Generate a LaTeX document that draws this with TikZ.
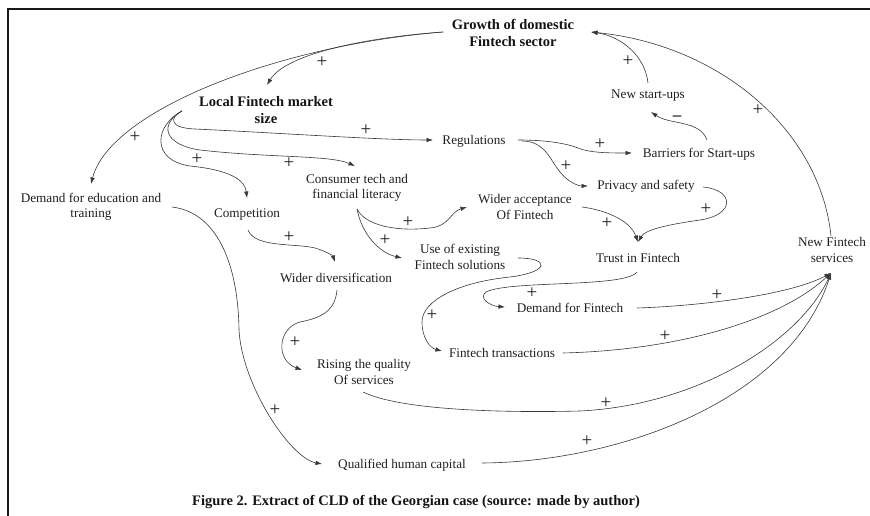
\documentclass[tikz,border=0pt]{standalone}
\usepackage{fontspec}
\setmainfont{Liberation Serif}
\usetikzlibrary{arrows.meta,calc}
\begin{document}
\begin{tikzpicture}[x=1pt,y=-1pt,
  var/.style={font=\fontsize{13.2}{15.5}\selectfont, text=black!88, align=center, inner sep=0pt},
  key/.style={font=\bfseries\fontsize{14.5}{17}\selectfont, text=black!92, align=center, inner sep=0pt},
  sgn/.style={font=\fontsize{19}{19}\selectfont, text=black!88, inner sep=0pt},
  cl/.style={draw=black!78, line width=0.6pt, -{Latex[length=6.5pt,width=4.5pt]}},
]
\useasboundingbox (0,0) rectangle (870,516);
% frame
\draw[line width=2.4pt, black!90, line join=miter] (8,516) -- (8,9) -- (870,9);

% variables
\node[key] (gro) at (513,33) {Growth of domestic\\Fintech sector};
\node[key] (lfm) at (266,110) {Local Fintech market\\size};
\node[var] (reg) at (474,141) {Regulations};
\node[var] (bar) at (699,154) {Barriers for Start-ups};
\node[var] (nsu) at (648,96) {New start-ups};
\node[var] (pri) at (646,186) {Privacy and safety};
\node[var] (ded) at (91,207) {Demand for education and\\training};
\node[var] (com) at (247,215) {Competition};
\node[var] (con) at (357,188) {Consumer tech and\\financial literacy};
\node[var] (wac) at (525,207) {Wider acceptance\\Of Fintech};
\node[var] (use) at (460,257) {Use of existing\\Fintech solutions};
\node[var] (tru) at (638,258) {Trust in Fintech};
\node[var] (nfs) at (832,250) {New Fintech\\services};
\node[var] (wdi) at (336,278) {Wider diversification};
\node[var] (dfi) at (570,308) {Demand for Fintech};
\node[var] (ftr) at (502,353) {Fintech transactions};
\node[var] (riq) at (364,372) {Rising the quality\\Of services};
\node[var] (qhc) at (402,465) {Qualified human capital};
\node[key] (cap) at (416,502) {Figure 2. Extract of CLD of the Georgian case (source: made by author)};

% causal links
\draw[cl] ($(gro)+(-70,-1)$) .. controls (360,38) and (285,55) .. ($(lfm)+(1,-25)$);
\draw[cl] ($(gro)+(-70,-1)$) .. controls (280,45) and (110,110) .. ($(ded)+(0,-23)$);
\draw[cl] ($(nsu)+(0,-13)$) .. controls (645,55) and (620,36) .. ($(gro)+(78,-1)$);
\draw[cl] ($(nfs)+(-1,-14)$) .. controls (820,130) and (720,45) .. ($(gro)+(78,-1)$);
\draw[cl] ($(bar)+(8,-14)$) .. controls (700,120) and (670,125) .. ($(nsu)+(3,16)$);
\draw[cl] ($(lfm)+(-84,1)$) .. controls (170,117) and (168,128) .. (195,129)
          .. controls (280,133) and (380,140) .. ($(reg)+(-41,-1)$);
\draw[cl] ($(lfm)+(-84,1)$) .. controls (158,125) and (165,145) .. (200,150)
          .. controls (270,158) and (330,155) .. ($(con)+(-2,-22)$);
\draw[cl] ($(lfm)+(-84,1)$) .. controls (155,125) and (150,160) .. (190,166)
          .. controls (230,170) and (245,180) .. ($(com)+(0,-17)$);
\draw[cl] ($(reg)+(44,-1)$) .. controls (545,140) and (565,143) .. (578,148)
          .. controls (590,153) and (610,153) .. ($(bar)+(-67,-1)$);
\draw[cl] ($(reg)+(48,0)$) .. controls (545,141) and (550,160) .. (560,172)
          .. controls (568,182) and (578,186) .. ($(pri)+(-58,0)$);
\draw[cl] ($(pri)+(57,1)$) .. controls (735,190) and (735,215) .. (700,220)
          .. controls (665,225) and (645,230) .. ($(tru)+(0,-16)$);
\draw[cl] ($(wac)+(57,0)$) .. controls (605,210) and (630,220) .. ($(tru)+(0,-16)$);
\draw[cl] ($(con)+(0,21)$) .. controls (365,225) and (395,232) .. (430,228)
          .. controls (450,226) and (450,212) .. ($(wac)+(-58,0)$);
\draw[cl] ($(con)+(0,21)$) .. controls (362,235) and (380,253) .. ($(use)+(-58,1)$);
\draw[cl] ($(use)+(58,1)$) .. controls (550,258) and (550,272) .. (510,277)
          .. controls (460,282) and (422,300) .. (422,322)
          .. controls (422,338) and (430,348) .. ($(ftr)+(-60,-2)$);
\draw[cl] ($(tru)+(-1,14)$) .. controls (625,288) and (510,280) .. (486,292)
          .. controls (478,298) and (490,306) .. ($(dfi)+(-65,-1)$);
\draw[cl] ($(dfi)+(67,0)$) .. controls (700,306) and (790,295) .. ($(nfs)+(-1,23)$);
\draw[cl] ($(ftr)+(61,0)$) .. controls (680,350) and (780,320) .. ($(nfs)+(-1,23)$);
\draw[cl] ($(riq)+(-1,20)$) .. controls (400,410) and (500,413) .. (580,411)
          .. controls (700,405) and (800,340) .. ($(nfs)+(-1,23)$);
\draw[cl] ($(qhc)+(80,-2)$) .. controls (620,462) and (790,400) .. ($(nfs)+(-1,23)$);
\draw[cl] ($(wdi)+(1,12)$) .. controls (335,312) and (320,318) .. (300,322)
          .. controls (278,328) and (275,360) .. ($(riq)+(-62,-2)$);
\draw[cl] ($(com)+(1,15)$) .. controls (255,248) and (295,243) .. (315,248)
          .. controls (328,252) and (333,256) .. ($(wdi)+(-1,-16)$);
\draw[cl] ($(ded)+(81,0)$) .. controls (215,212) and (238,260) .. (239,330)
          .. controls (242,385) and (290,458) .. ($(qhc)+(-80,-1)$);

% link polarities
\node[sgn] (s1) at (322,62) {+};
\node[sgn] (s2) at (135,137) {+};
\node[sgn] (s3) at (628,61) {+};
\node[sgn] (s4) at (758,110) {+};
\node[sgn, font=\bfseries\fontsize{17}{17}\selectfont] (s5) at (677,118) {--};
\node[sgn] (s6) at (366,130) {+};
\node[sgn] (s7) at (289,163) {+};
\node[sgn] (s8) at (197,159) {+};
\node[sgn] (s9) at (600,144) {+};
\node[sgn] (s10) at (566,166) {+};
\node[sgn] (s11) at (706,209) {+};
\node[sgn] (s12) at (607,223) {+};
\node[sgn] (s13) at (408,222) {+};
\node[sgn] (s14) at (385,240) {+};
\node[sgn] (s15) at (432,315) {+};
\node[sgn] (s16) at (532,293) {+};
\node[sgn] (s17) at (717,295) {+};
\node[sgn] (s18) at (665,336) {+};
\node[sgn] (s19) at (606,403) {+};
\node[sgn] (s20) at (587,441) {+};
\node[sgn] (s21) at (295,342) {+};
\node[sgn] (s22) at (289,237) {+};
\node[sgn] (s23) at (275,410) {+};
\end{tikzpicture}
\end{document}
